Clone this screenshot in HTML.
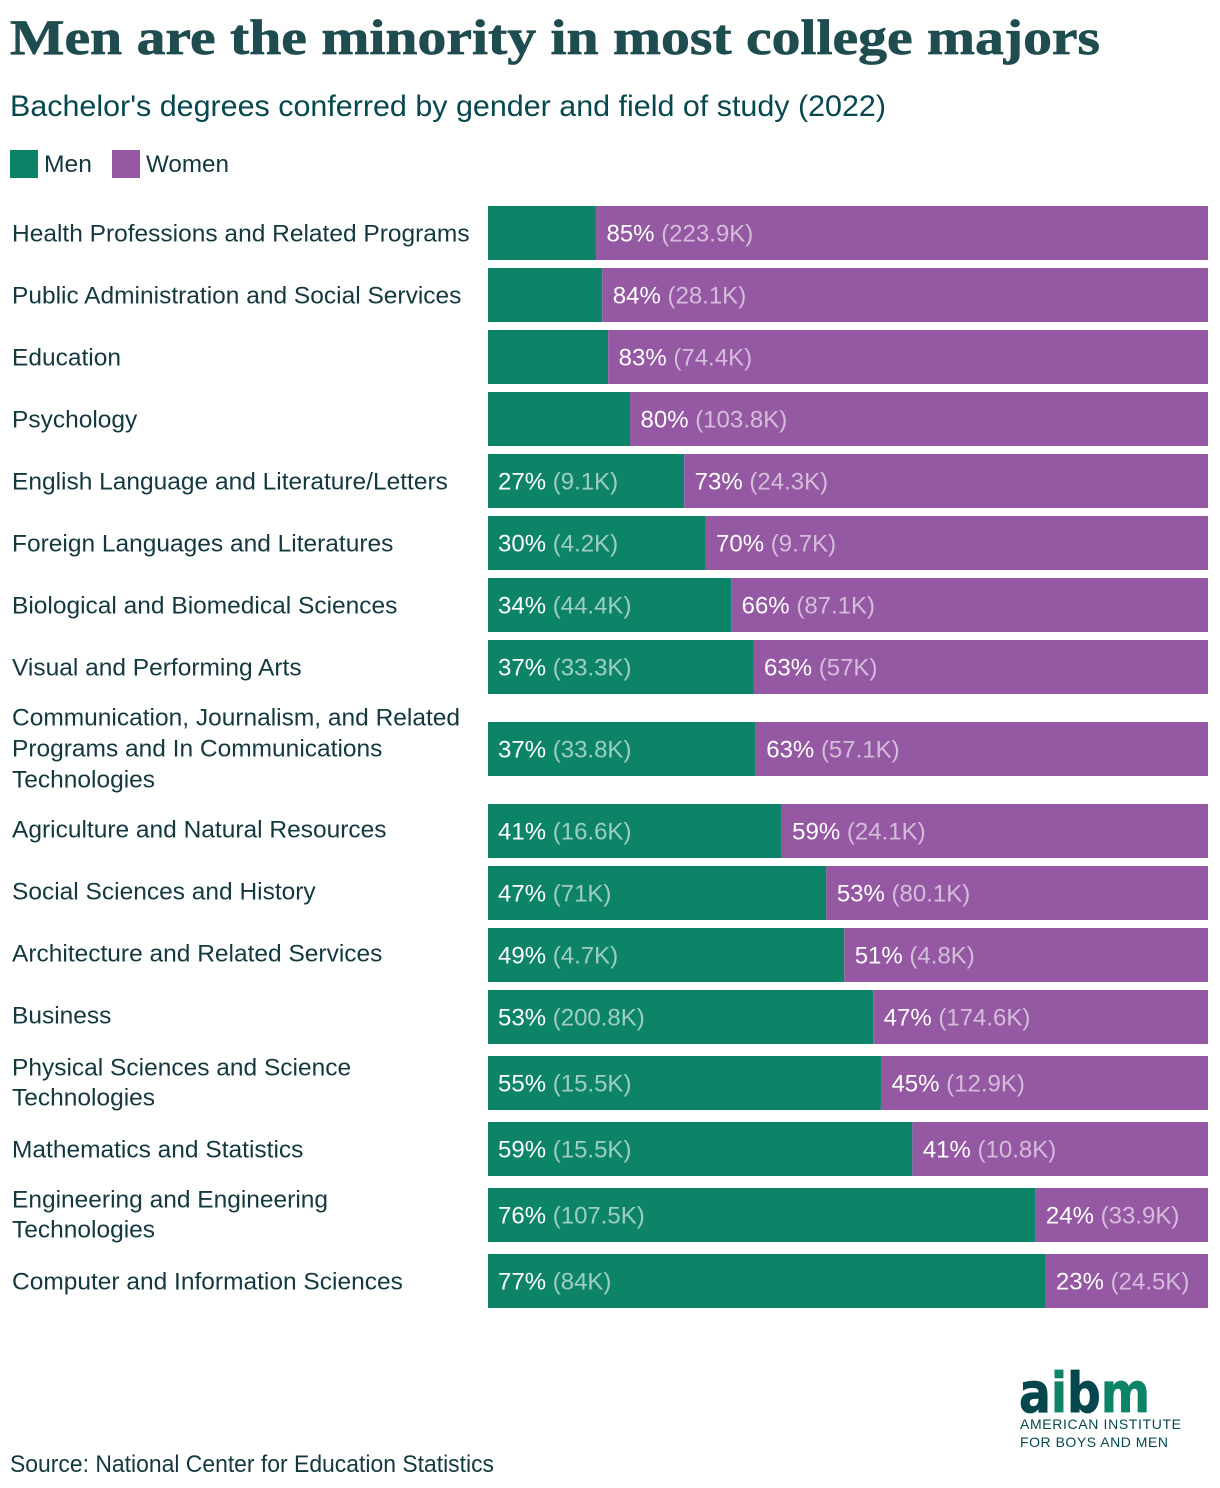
<!DOCTYPE html>
<html lang="en">
<head>
<meta charset="utf-8">
<title>Men are the minority in most college majors</title>
<style>
html,body{margin:0;padding:0;background:#fff;}
svg{display:block;}
text{font-family:"Liberation Sans",sans-serif;}
.serif{font-family:"Liberation Serif",serif;font-weight:700;}
.logo{font-family:"DejaVu Sans",sans-serif;font-weight:700;}
</style>
</head>
<body>
<svg id="chart" width="1220" height="1488" viewBox="0 0 1220 1488" xmlns="http://www.w3.org/2000/svg">
  <text class="serif" x="10" y="54" font-size="50" fill="#1f4c4f" textLength="1090" lengthAdjust="spacingAndGlyphs" stroke="#1f4c4f" stroke-width="0.7">Men are the minority in most college majors</text>
  <text x="10" y="116" font-size="29.5" fill="#07474f" textLength="876" lengthAdjust="spacingAndGlyphs">Bachelor's degrees conferred by gender and field of study (2022)</text>
  <g>
    <rect x="10" y="150" width="28" height="28" fill="#0d8468"/>
    <text x="44" y="172" font-size="24.5" fill="#13383f" textLength="48" lengthAdjust="spacingAndGlyphs">Men</text>
    <rect x="112" y="150" width="28" height="28" fill="#9558a3"/>
    <text x="146" y="172" font-size="24.5" fill="#13383f" textLength="83" lengthAdjust="spacingAndGlyphs">Women</text>
  </g>
  <g id="rows"></g>
  <g>
    <text class="logo" x="1019" y="1412" font-size="55" textLength="131" lengthAdjust="spacingAndGlyphs" stroke-width="0.8"><tspan fill="#06474f" stroke="#06474f">a</tspan><tspan fill="#0d8468" stroke="#0d8468">i</tspan><tspan fill="#06474f" stroke="#06474f">b</tspan><tspan fill="#0d8468" stroke="#0d8468">m</tspan></text>
    <text x="1020" y="1429" font-size="14" fill="#06474f" textLength="161" lengthAdjust="spacing">AMERICAN INSTITUTE</text>
    <text x="1020" y="1447" font-size="14" fill="#06474f" textLength="148" lengthAdjust="spacing">FOR BOYS AND MEN</text>
  </g>
  <text x="10" y="1472" font-size="24" fill="#13383f" textLength="484" lengthAdjust="spacingAndGlyphs">Source: National Center for Education Statistics</text>
</svg>
<script>
const categories = [
  ["Health Professions and Related Programs"],
  ["Public Administration and Social Services"],
  ["Education"],
  ["Psychology"],
  ["English Language and Literature/Letters"],
  ["Foreign Languages and Literatures"],
  ["Biological and Biomedical Sciences"],
  ["Visual and Performing Arts"],
  ["Communication, Journalism, and Related", "Programs and In Communications", "Technologies"],
  ["Agriculture and Natural Resources"],
  ["Social Sciences and History"],
  ["Architecture and Related Services"],
  ["Business"],
  ["Physical Sciences and Science", "Technologies"],
  ["Mathematics and Statistics"],
  ["Engineering and Engineering", "Technologies"],
  ["Computer and Information Sciences"]
];
const menThousands = [39.5, 5.3, 14.9, 25.5, 9.1, 4.2, 44.4, 33.3, 33.8, 16.6, 71, 4.7, 200.8, 15.5, 15.5, 107.5, 84];
const womenThousands = [223.9, 28.1, 74.4, 103.8, 24.3, 9.7, 87.1, 57, 57.1, 24.1, 80.1, 4.8, 174.6, 12.9, 10.8, 33.9, 24.5];

const NS = 'http://www.w3.org/2000/svg';
const root = document.getElementById('rows');
const PLOT_LEFT = 488, PLOT_WIDTH = 720, BAR_H = 54, FIRST_TOP = 202;
const MEN_LABEL_MIN = 0.2;
const CATEGORY_SCALE = 1.0, VALUE_SCALE = 0.98, FONT = 24.5;
const ROW_EXTRA = {1: 0, 2: 8, 3: 40};
const LINE_HEIGHT = {1: 0, 2: 30, 3: 31};
const LINE_NUDGE = {1: 0, 2: -1, 3: -1};
const xScale = share => PLOT_LEFT + share * PLOT_WIDTH;

function makeLabel(x, y, pct, count) {
  const t = document.createElementNS(NS, 'text');
  t.setAttribute('transform', 'translate(' + x + ',' + y + ') scale(' + VALUE_SCALE + ',1)');
  t.setAttribute('font-size', FONT);
  t.setAttribute('fill', '#fff');
  const a = document.createElementNS(NS, 'tspan');
  a.textContent = pct + '% ';
  const b = document.createElementNS(NS, 'tspan');
  b.setAttribute('fill-opacity', '0.6');
  b.textContent = '(' + count + 'K)';
  t.appendChild(a);
  t.appendChild(b);
  return t;
}

let rowTop = FIRST_TOP;
categories.forEach(function (lines, i) {
  const extra = ROW_EXTRA[lines.length];
  const barTop = rowTop + 4 + extra / 2;
  const barMid = barTop + BAR_H / 2;
  const total = menThousands[i] + womenThousands[i];
  const menShare = menThousands[i] / total;
  const split = xScale(menShare);

  const g = document.createElementNS(NS, 'g');
  
  

  const nudge = ((i >= 9 && i <= 12) ? -2 : 0) + LINE_NUDGE[lines.length];
  lines.forEach(function (line, k) {
    const tx = document.createElementNS(NS, 'text');
    const ly = barMid + nudge + 8.5 + (k - (lines.length - 1) / 2) * LINE_HEIGHT[lines.length];
    tx.setAttribute('transform', 'translate(12,' + ly + ') scale(' + CATEGORY_SCALE + ',1)');
    tx.setAttribute('font-size', FONT);
    tx.setAttribute('fill', '#13383f');
    
    
    tx.textContent = line;
    g.appendChild(tx);
  });

  const rm = document.createElementNS(NS, 'rect');
  rm.setAttribute('x', PLOT_LEFT);
  rm.setAttribute('y', barTop);
  rm.setAttribute('width', split - PLOT_LEFT);
  rm.setAttribute('height', BAR_H);
  rm.setAttribute('fill', '#0d8468');
  
  
  g.appendChild(rm);

  const rw = document.createElementNS(NS, 'rect');
  rw.setAttribute('x', split);
  rw.setAttribute('y', barTop);
  rw.setAttribute('width', PLOT_LEFT + PLOT_WIDTH - split);
  rw.setAttribute('height', BAR_H);
  rw.setAttribute('fill', '#9558a3');
  
  
  g.appendChild(rw);

  if (menShare >= MEN_LABEL_MIN) {
    const lm = makeLabel(PLOT_LEFT + 10, barMid + 8.5, Math.round(menShare * 100), menThousands[i]);
    
    
    g.appendChild(lm);
  }
  const lw = makeLabel(split + 10.5, barMid + 8.5, Math.round((1 - menShare) * 100), womenThousands[i]);
  
  
  g.appendChild(lw);

  root.appendChild(g);
  rowTop += 62 + extra;
});
</script>
</body>
</html>
